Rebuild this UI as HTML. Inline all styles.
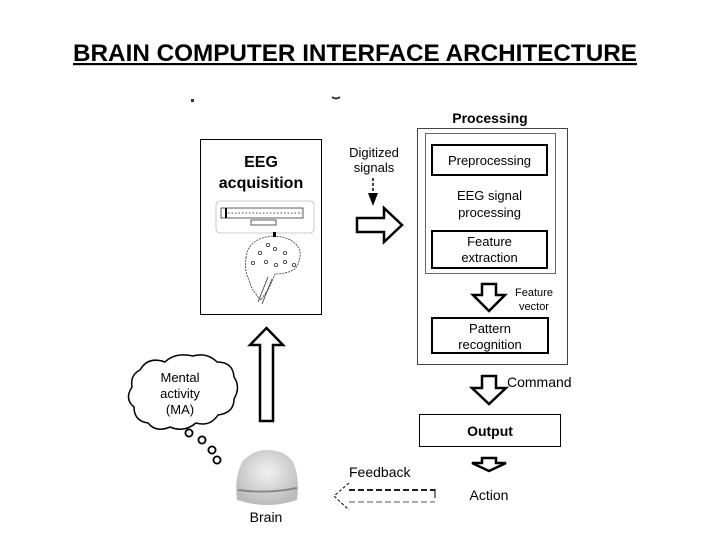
<!DOCTYPE html>
<html><head><meta charset="utf-8"><style>
html,body{margin:0;padding:0;background:#fff;}
svg{display:block;font-family:"Liberation Sans",Arial,sans-serif;}
</style></head><body>
<svg width="728" height="546" viewBox="0 0 728 546" xmlns="http://www.w3.org/2000/svg">
<rect width="728" height="546" fill="#fff"/>
<text x="73" y="61" font-size="24" font-weight="bold" textLength="564" lengthAdjust="spacingAndGlyphs">BRAIN COMPUTER INTERFACE  ARCHITECTURE</text>
<rect x="73" y="63" width="564" height="2.2" fill="#000"/>
<rect x="191" y="99" width="3" height="3" fill="#333"/>
<path d="M332 97 q4 3 8 0" stroke="#333" stroke-width="2" fill="none"/>

<!-- EEG box -->
<rect x="200.5" y="139.5" width="121" height="175" fill="#fff" stroke="#000" stroke-width="1"/>
<text x="261" y="167" font-size="16" font-weight="bold" text-anchor="middle">EEG</text>
<text x="261" y="188" font-size="16" font-weight="bold" text-anchor="middle">acquisition</text>
<rect x="216" y="201" width="98" height="32" rx="4" fill="none" stroke="#bbb" stroke-width="0.8"/>
<rect x="221" y="208" width="82" height="10" fill="none" stroke="#333" stroke-width="0.8"/>
<line x1="228" y1="213" x2="302" y2="213" stroke="#444" stroke-width="1" stroke-dasharray="1.5 2"/>
<rect x="225" y="208" width="2" height="10" fill="#000"/>
<rect x="251" y="220" width="25" height="5" fill="none" stroke="#333" stroke-width="0.8"/>
<!-- cap -->
<path d="M246 258 q2-20 27-22 q22 1 27 15 q1 10-5 18 q-8 5-20 5 l-6 14 -8 12 q-10-10-12-20 q-5-10-3-22z" fill="#fff" stroke="#333" stroke-width="0.8" stroke-dasharray="2 1"/>
<g fill="none" stroke="#333" stroke-width="0.8">
<circle cx="260" cy="253" r="1.6"/><circle cx="268" cy="245" r="1.6"/><circle cx="275" cy="249" r="1.6"/><circle cx="285" cy="253" r="1.6"/>
<circle cx="266" cy="262" r="1.6"/><circle cx="276" cy="265" r="1.6"/><circle cx="285" cy="262" r="1.6"/><circle cx="253" cy="263" r="1.6"/><circle cx="294" cy="265" r="1.6"/>
<path d="M258 302 l10-25 M262 304 l10-25"/>
</g>
<rect x="273" y="245" width="3" height="5" fill="#000" transform="translate(0,-13)"/>

<!-- Digitized signals -->
<text x="374" y="157" font-size="13" text-anchor="middle">Digitized</text>
<text x="374" y="172" font-size="13" text-anchor="middle">signals</text>
<line x1="373" y1="178" x2="373" y2="194" stroke="#000" stroke-width="1.5" stroke-dasharray="3 2"/>
<polygon points="368,193 378,193 373,206" fill="#000"/>
<polygon points="357,218 384,218 384,208 402,225 384,242 384,232 357,232" fill="#fff" stroke="#000" stroke-width="2.5"/>

<!-- Processing -->
<text x="490" y="123" font-size="14" font-weight="bold" text-anchor="middle">Processing</text>
<rect x="417.5" y="128.5" width="150" height="236" fill="none" stroke="#444" stroke-width="1"/>
<rect x="425.5" y="133.5" width="130" height="140" fill="none" stroke="#666" stroke-width="1"/>
<rect x="432" y="145" width="115" height="30" fill="#fff" stroke="#000" stroke-width="2"/>
<text x="489.5" y="165" font-size="13" text-anchor="middle">Preprocessing</text>
<text x="489.5" y="200" font-size="13" text-anchor="middle">EEG signal</text>
<text x="489.5" y="217" font-size="13" text-anchor="middle">processing</text>
<rect x="432" y="231" width="115" height="37" fill="#fff" stroke="#000" stroke-width="2"/>
<text x="489.5" y="246" font-size="13" text-anchor="middle">Feature</text>
<text x="489.5" y="262" font-size="13" text-anchor="middle">extraction</text>
<polygon points="482,284 496,284 496,295 505,295 489,311 473,295 482,295" fill="#fff" stroke="#000" stroke-width="2.5"/>
<text x="534" y="296" font-size="11" text-anchor="middle">Feature</text>
<text x="534" y="310" font-size="11" text-anchor="middle">vector</text>
<rect x="432" y="318" width="116" height="35" fill="#fff" stroke="#000" stroke-width="2"/>
<text x="490" y="333" font-size="13" text-anchor="middle">Pattern</text>
<text x="490" y="349" font-size="13" text-anchor="middle">recognition</text>

<!-- Command -->
<polygon points="482,376 496,376 496,388 506,388 489,404 472,388 482,388" fill="#fff" stroke="#000" stroke-width="2.5"/>
<text x="507" y="387" font-size="14">Command</text>
<rect x="419.5" y="414.5" width="141" height="32" fill="#fff" stroke="#000" stroke-width="1"/>
<text x="490" y="436" font-size="14" font-weight="bold" text-anchor="middle">Output</text>
<polygon points="482,458 496,458 496,463 506,463 489,471 472,463 482,463" fill="#fff" stroke="#000" stroke-width="2.5"/>
<text x="489" y="500" font-size="14" text-anchor="middle">Action</text>

<!-- Feedback -->
<text x="349" y="477" font-size="14">Feedback</text>
<line x1="349" y1="490" x2="435" y2="490" stroke="#000" stroke-width="1.8" stroke-dasharray="6 3"/>
<line x1="349" y1="502" x2="435" y2="502" stroke="#555" stroke-width="1" stroke-dasharray="6 3"/>
<line x1="435" y1="489" x2="435" y2="498" stroke="#000" stroke-width="1"/>
<path d="M349 483 L334 496 L349 510" fill="none" stroke="#000" stroke-width="1" stroke-dasharray="3 2"/>

<!-- Brain -->
<defs><radialGradient id="bg" cx="0.5" cy="0.4" r="0.6"><stop offset="0" stop-color="#f2f2f2"/><stop offset="1" stop-color="#bbb"/></radialGradient></defs>
<path d="M237 500 q-3-22 5-38 q10-12 25-12 q18 0 26 12 q7 14 4 38 q-30 10-60 0z" fill="url(#bg)"/>
<path d="M238 490 q30 4 59 -2" stroke="#888" stroke-width="2" fill="none"/>
<text x="266" y="522" font-size="14" text-anchor="middle">Brain</text>

<!-- Up arrow -->
<polygon points="260,421 273,421 273,345 283,345 266.5,328 250,345 260,345" fill="#fff" stroke="#000" stroke-width="2.5"/>

<!-- Cloud -->
<path d="M140 370 q8-14 25-8 q10-10 28-6 q14-4 24 6 q16 0 17 15 q7 10 0 22 q0 14-16 16 q-8 12-22 8 q-12 10-26 4 q-14 6-22-4 q-14-2-14-16 q-10-8-2-20 q-2-12 8-17z" fill="#fff" stroke="#000" stroke-width="1.5"/>
<text x="180" y="382" font-size="13" text-anchor="middle">Mental</text>
<text x="180" y="398" font-size="13" text-anchor="middle">activity</text>
<text x="180" y="414" font-size="13" text-anchor="middle">(MA)</text>
<g fill="#fff" stroke="#000" stroke-width="1.8">
<circle cx="189" cy="433" r="3.6"/><circle cx="202" cy="440" r="3.6"/><circle cx="212" cy="450" r="3.6"/><circle cx="217" cy="460" r="3.6"/>
</g>
</svg>
</body></html>
